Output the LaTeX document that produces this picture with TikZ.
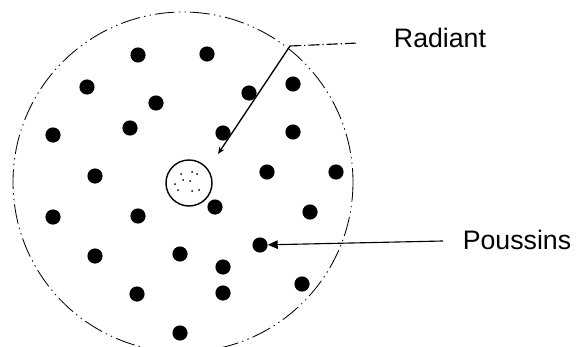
\documentclass[tikz,border=0pt]{standalone}
\usepackage{fontspec}
\setmainfont{Liberation Sans}
\usetikzlibrary{arrows.meta}
\begin{document}
\begin{tikzpicture}[x=0.25mm,y=-0.25mm,
    chick/.style={circle,fill=black,inner sep=0pt,minimum size=3.8mm},
    speck/.style={circle,fill=black,inner sep=0pt,minimum size=0.5mm},
    label/.style={font=\fontsize{19}{23}\selectfont}]
    \useasboundingbox (0,0) rectangle (578,347);

    % Outer boundary
    \draw[line width=0.6pt, dash pattern=on 14pt off 3pt on 1pt off 3pt on 1pt off 3pt] (183,182) circle[radius=170];

    % Radiant
    \node[circle,draw,line width=1pt,minimum size=11.5mm,inner sep=0pt] (rad) at (189,183) {};
    \foreach \x/\y in {181/174,192/172,197/174,183/180,190/181,178/190,192/191,199/190,175/184}
        \node[speck] at (\x,\y) {};

    % Chicks
    \foreach \x/\y [count=\i] in {138/55,207/54,87/87,156/103,249/93,293/84,53/135,130/128,223/133,293/132,
        95/176,267/172,336/172,215/207,53/217,138/216,310/212,260/245,95/256,180/254,
        223/267,137/294,223/293,302/284,180/333}
        \node[chick] (p\i) at (\x,\y) {};

    % Radiant pointer
    \coordinate (tip) at (218,154);
    \coordinate (bend) at (290,46);
    \coordinate (rend) at (358,43);
    \draw[line width=0.9pt,-{Stealth[length=5pt,width=4pt]}] (bend) -- (tip);
    \draw[line width=0.8pt, dash pattern=on 8pt off 2pt on 1pt off 2pt] (bend) -- (rend);
    \node[label] (radlabel) at (440,38) {Radiant};

    % Poussins pointer
    \coordinate (pend) at (443,241);
    \draw[line width=0.8pt,-{Triangle[length=7pt,width=6pt]}] (pend) -- (p18);
    \node[label] (pouslabel) at (517,240) {Poussins};
\end{tikzpicture}
\end{document}
